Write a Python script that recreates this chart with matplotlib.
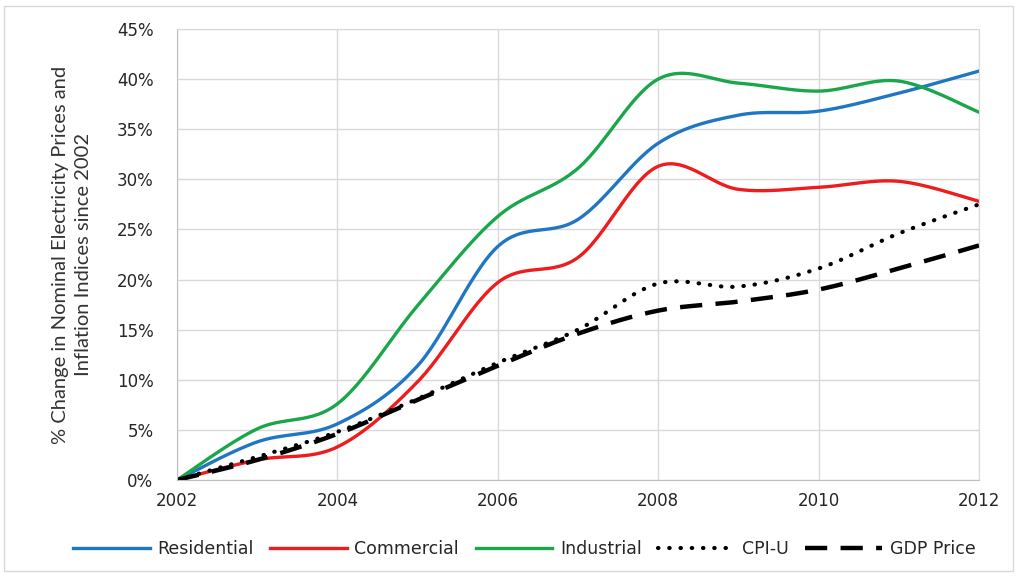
import numpy as np
import matplotlib.pyplot as plt
from matplotlib.patches import Rectangle
from matplotlib.ticker import PercentFormatter

years = [2002, 2003, 2004, 2005, 2006, 2007, 2008, 2009, 2010, 2011, 2012]
residential = [0.0, 3.8, 5.6, 11.4, 23.3, 26.0, 33.6, 36.4, 36.8, 38.6, 40.8]
commercial = [0.0, 2.0, 3.3, 9.8, 19.7, 22.2, 31.3, 29.0, 29.2, 29.8, 27.8]
industrial = [0.0, 5.1, 7.6, 17.4, 26.3, 31.1, 40.0, 39.6, 38.8, 39.8, 36.7]
cpi_u = [0.0, 2.3, 4.8, 8.1, 11.7, 15.0, 19.6, 19.3, 21.1, 24.6, 27.5]
gdp_price = [0.0, 2.0, 4.6, 8.0, 11.4, 14.6, 16.9, 17.8, 19.0, 21.1, 23.4]


def smooth(x, y, n=30):
    # Excel style smoothed line (Catmull-Rom through the points)
    x = np.asarray(x, float)
    y = np.asarray(y, float)
    px = np.concatenate([[x[0]], x, [x[-1]]])
    py = np.concatenate([[y[0]], y, [y[-1]]])
    xs, ys = [], []
    t = np.linspace(0, 1, n)
    for i in range(1, len(px) - 2):
        p0, p1, p2, p3 = [np.array([px[j], py[j]]) for j in (i - 1, i, i + 1, i + 2)]
        c1 = p1 + (p2 - p0) / 6
        c2 = p2 - (p3 - p1) / 6
        b = (np.outer((1 - t) ** 3, p1) + np.outer(3 * (1 - t) ** 2 * t, c1)
             + np.outer(3 * (1 - t) * t ** 2, c2) + np.outer(t ** 3, p2))
        xs.extend(b[:, 0])
        ys.extend(b[:, 1])
    return xs, ys


fig = plt.figure(figsize=(10.18, 5.76), dpi=100)
ax = fig.add_axes([0.1739, 0.1667, 0.7878, 0.783])

ax.plot(*smooth(years, residential), color="#1f77c4", lw=2.4, label="Residential")
ax.plot(*smooth(years, commercial), color="#ee1c1c", lw=2.4, label="Commercial")
ax.plot(*smooth(years, industrial), color="#1aa64a", lw=2.4, label="Industrial")
ax.plot(*smooth(years, cpi_u), color="black", lw=3, linestyle=(0, (0.1, 2.6)),
        dash_capstyle="round", label="CPI-U")
ax.plot(*smooth(years, gdp_price), color="black", lw=3.2, linestyle=(0, (5, 3)),
        label="GDP Price")

ax.set_xlim(2002, 2012)
ax.set_ylim(0, 45)
ax.set_xticks(range(2002, 2013, 2))
ax.set_yticks(range(0, 46, 5))
ax.yaxis.set_major_formatter(PercentFormatter(decimals=0))
ax.tick_params(length=0, labelsize=12, colors="#262626")
ax.tick_params(axis="y", pad=17)
ax.tick_params(axis="x", pad=9)
ax.grid(True, color="#d9d9d9", lw=1)
ax.set_axisbelow(True)
for s in ax.spines.values():
    s.set_color("#d9d9d9")
ax.spines["left"].set_color("#bfbfbf")
ax.spines["bottom"].set_color("#bfbfbf")

ax.set_ylabel("% Change in Nominal Electricity Prices and\nInflation Indices since 2002",
              fontsize=14.5, family="Lato", color="#333333", linespacing=1.4)
ax.yaxis.set_label_coords(-0.106, 0.5)

leg = ax.legend(loc="center", bbox_to_anchor=(0.433, -0.153), ncol=5, frameon=False,
                handlelength=4.4, columnspacing=0.95, handletextpad=0.45,
                prop={"family": "DejaVu Sans", "size": 12.5})
for txt in leg.get_texts():
    txt.set_color("#262626")

fig.patches.append(Rectangle((0.004, 0.008), 0.991, 0.981, transform=fig.transFigure,
                             fill=False, edgecolor="#d9d9d9", lw=1))

fig.savefig("out.png", dpi=100)
